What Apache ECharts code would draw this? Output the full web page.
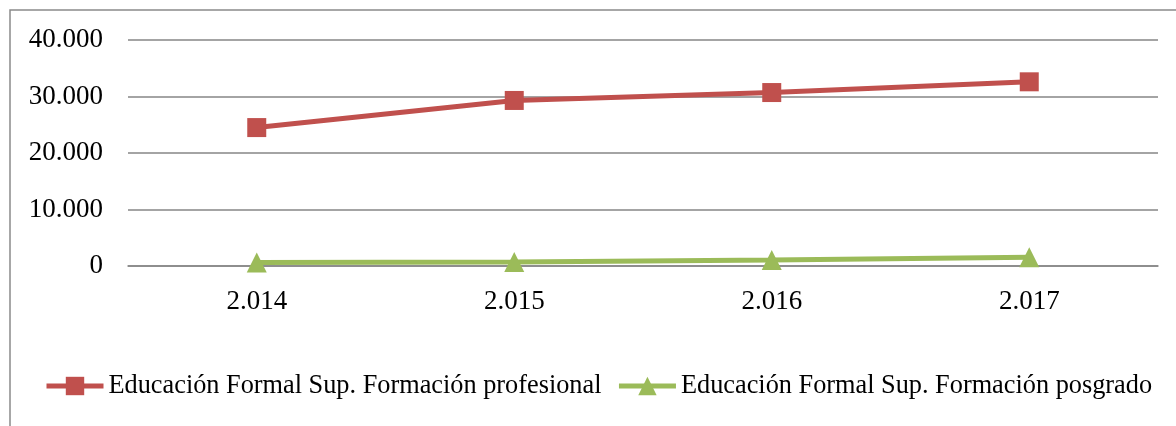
<!DOCTYPE html>
<html>
<head>
<meta charset="utf-8">
<script src="https://cdn.jsdelivr.net/npm/echarts@6/dist/echarts.min.js"></script>
<style>
html, body { margin: 0; padding: 0; background: #fff; }
#chart { width: 1176px; height: 426px; }
</style>
</head>
<body>
<div id="chart"></div>
<script>
var years = ['2.014', '2.015', '2.016', '2.017'];
var profesional = [24500, 29300, 30700, 32600];
var posgrado = [600, 700, 1050, 1550];
var seriesNames = ['Educación Formal Sup. Formación profesional', 'Educación Formal Sup. Formación posgrado'];

var font = 'Liberation Serif';

function fmt(v) {
    return String(v).replace(/\B(?=(\d{3})+(?!\d))/g, '.');
}

var myChart = echarts.init(document.getElementById('chart'));
myChart.setOption({
    animation: false,
    graphic: [{
        type: 'rect',
        shape: { x: 10, y: 10, width: 1300, height: 600 },
        style: { fill: 'none', stroke: '#8a8a8a', lineWidth: 1.5 },
        silent: true
    }],
    grid: { left: 128, right: 18, top: 40, bottom: 160 },
    legend: {
        left: 39,
        top: 368,
        itemWidth: 57,
        itemHeight: 23,
        itemGap: 15,
        lineStyle: { width: 5 },
        textStyle: { fontFamily: font, fontSize: 26.3, color: '#000' },
        data: seriesNames
    },
    xAxis: {
        type: 'category',
        data: years,
        boundaryGap: true,
        axisLine: { lineStyle: { color: '#868686', width: 1.5 } },
        axisTick: { show: false },
        axisLabel: { fontFamily: font, fontSize: 27, color: '#000', margin: 22 }
    },
    yAxis: {
        type: 'value',
        min: 0,
        max: 40000,
        interval: 10000,
        axisLine: { show: false },
        axisTick: { show: false },
        splitLine: { lineStyle: { color: '#868686', width: 1.5 } },
        axisLabel: { fontFamily: font, fontSize: 27, color: '#000', margin: 25, formatter: fmt }
    },
    series: [{
        name: seriesNames[0],
        type: 'line',
        data: profesional,
        symbol: 'rect',
        symbolSize: 19,
        lineStyle: { color: '#C0504D', width: 5 },
        itemStyle: { color: '#C0504D' }
    }, {
        name: seriesNames[1],
        type: 'line',
        data: posgrado,
        symbol: 'triangle',
        symbolSize: 20,
        lineStyle: { color: '#9BBB59', width: 5 },
        itemStyle: { color: '#9BBB59' }
    }]
});
</script>
</body>
</html>
